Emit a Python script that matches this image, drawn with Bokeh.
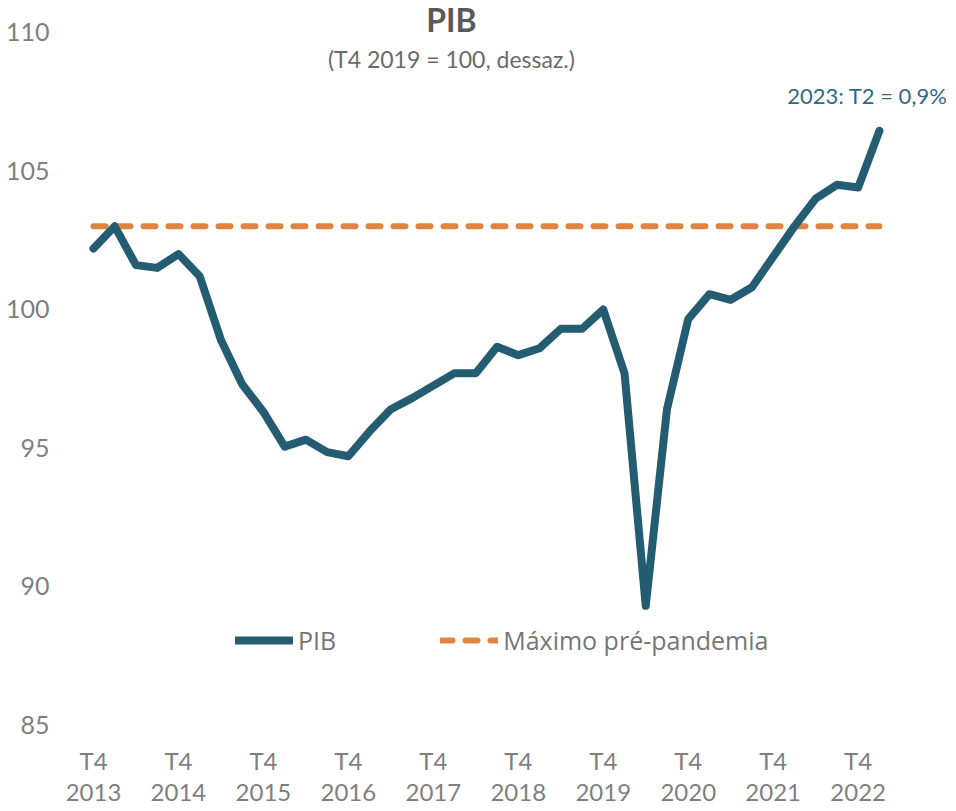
from bokeh.plotting import figure
from bokeh.models import Range1d, FixedTicker, Label, Legend, LegendItem
from bokeh.embed import file_html
from bokeh.resources import INLINE

# ---- data ----
quarters = ["T4 2013",
            "T1 2014", "T2 2014", "T3 2014", "T4 2014",
            "T1 2015", "T2 2015", "T3 2015", "T4 2015",
            "T1 2016", "T2 2016", "T3 2016", "T4 2016",
            "T1 2017", "T2 2017", "T3 2017", "T4 2017",
            "T1 2018", "T2 2018", "T3 2018", "T4 2018",
            "T1 2019", "T2 2019", "T3 2019", "T4 2019",
            "T1 2020", "T2 2020", "T3 2020", "T4 2020",
            "T1 2021", "T2 2021", "T3 2021", "T4 2021",
            "T1 2022", "T2 2022", "T3 2022", "T4 2022",
            "T1 2023"]
pib = [102.2,
       103.0, 101.6, 101.5, 102.0,
       101.2, 98.9, 97.3, 96.3,
       95.05, 95.3, 94.85, 94.7,
       95.6, 96.4, 96.8, 97.25,
       97.7, 97.7, 98.65, 98.35,
       98.6, 99.3, 99.3, 100.0,
       97.7, 89.3, 96.4, 99.65,
       100.55, 100.35, 100.8, 101.9,
       103.0, 104.0, 104.5, 104.4,
       106.45]
max_pre_pandemia = [103.0] * len(quarters)
y_ticks = [85, 90, 95, 100, 105, 110]
x_tick_labels = ["T4\n2013", "T4\n2014", "T4\n2015", "T4\n2016", "T4\n2017",
                 "T4\n2018", "T4\n2019", "T4\n2020", "T4\n2021", "T4\n2022"]
title_text = "PIB"
subtitle_text = "(T4 2019 = 100, dessaz.)"
note_text = "2023: T2 = 0,9%"

x = list(range(len(quarters)))
x_ticks = [i for i, q in enumerate(quarters) if q.startswith("T4")]

BLUE = "#245D72"
ORANGE = "#E0843F"
GREY = "#7F7F7F"

p = figure(frame_width=888, frame_height=735,
           x_range=Range1d(-1.648, 40.16), y_range=Range1d(84.62, 111.153),
           output_backend="svg", toolbar_location=None,
           min_border_left=58, min_border_right=0,
           min_border_top=0, min_border_bottom=0)
p.outline_line_color = None
p.background_fill_color = "white"
p.border_fill_color = "white"
p.xgrid.grid_line_color = None
p.ygrid.grid_line_color = None

# y axis
p.yaxis.ticker = FixedTicker(ticks=y_ticks)
p.yaxis.axis_line_color = None
p.yaxis.major_tick_line_color = None
p.yaxis.minor_tick_line_color = None
p.yaxis.major_label_text_font = "Lato"
p.yaxis.major_label_text_font_size = "25px"
p.yaxis.major_label_text_color = GREY
p.yaxis.major_label_standoff = 3

# x axis
p.xaxis.ticker = FixedTicker(ticks=x_ticks)
p.xaxis.major_label_overrides = {t: lab for t, lab in zip(x_ticks, x_tick_labels)}
p.xaxis.axis_line_color = None
p.xaxis.major_tick_line_color = None
p.xaxis.minor_tick_line_color = None
p.xaxis.major_label_text_font = "Lato"
p.xaxis.major_label_text_font_size = "24px"
p.xaxis.major_label_text_color = GREY
p.xaxis.major_label_text_line_height = 1.1
p.xaxis.major_label_standoff = 4

r_max = p.line(x, max_pre_pandemia, line_color=ORANGE, line_width=6,
               line_dash="12 13", line_cap="round")
r_pib = p.line(x, pib, line_color=BLUE, line_width=8,
               line_join="round", line_cap="round")

legend = Legend(items=[LegendItem(label="PIB", renderers=[r_pib]),
                       LegendItem(label="Máximo pré-pandemia", renderers=[r_max])],
                orientation="horizontal", location=(177, 78),
                border_line_color=None, background_fill_alpha=0,
                padding=0, margin=0, spacing=104,
                glyph_width=58, glyph_height=30, label_height=30,
                label_standoff=5,
                label_text_font="Open Sans", label_text_font_size="25px",
                label_text_color="#767676")
p.add_layout(legend, "center")

p.add_layout(Label(x=16.85, y=110.47, text=title_text, text_font="Lato",
                   text_font_style="bold", text_font_size="32px",
                   text_color="#595959", text_align="center",
                   text_baseline="middle"))
p.add_layout(Label(x=16.85, y=109.03, text=subtitle_text, text_font="Lato",
                   text_font_size="23px", text_color="#6A6A6A",
                   text_align="center", text_baseline="middle"))
p.add_layout(Label(x=len(quarters) - 1, y=107.73, x_offset=-12, text=note_text,
                   text_font="Lato", text_font_size="22px", text_color="#2F6B80",
                   text_align="center", text_baseline="middle"))

open("out.html", "w").write(file_html(p, INLINE))
